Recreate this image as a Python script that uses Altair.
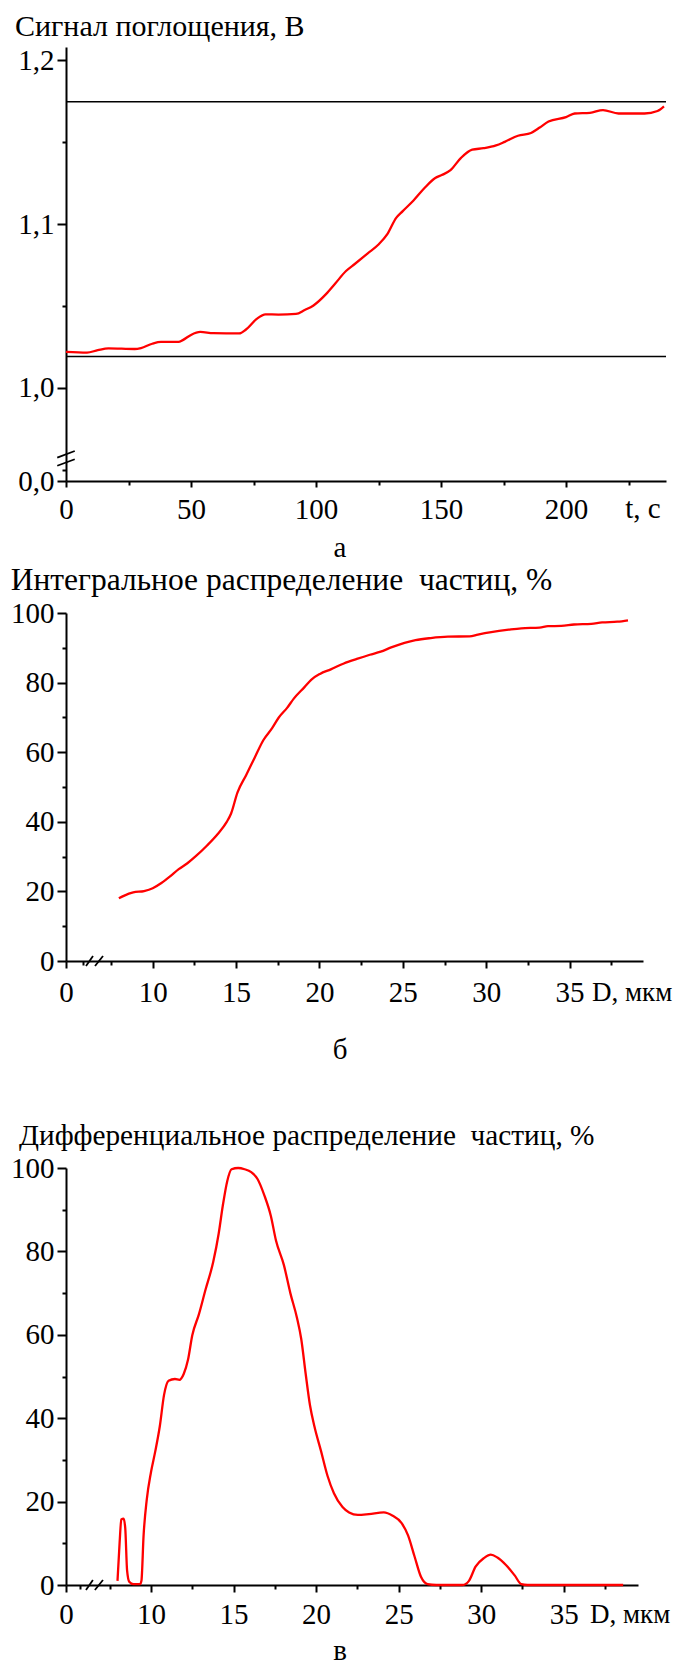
import altair as alt
import pandas as pd

FONT = "Liberation Serif, Times New Roman, serif"
RED = "#ff0000"

# ---------------- panel а: absorption signal vs time ----------------
t_sec = [0, 8.4, 12.7, 17, 27.5, 30, 34.5, 38, 45, 46.7, 50, 53.7, 58.9, 69.3, 72, 76.3,
         79.8, 85, 92, 95.5, 99, 104, 107.7, 112, 115.5, 120.7, 125, 128.6, 132, 134.7,
         139, 143.4, 147.7, 150.3, 153.8, 158, 162.5, 167, 172, 175.5, 180.8, 186, 189.5,
         193, 200, 203.5, 209.6, 214.8, 221, 231.4, 236.6, 239.2]
signal = [1.0221, 1.0216, 1.0231, 1.0242, 1.0238, 1.0244, 1.027, 1.0281, 1.0281, 1.0292,
          1.0324, 1.0342, 1.0335, 1.0333, 1.0357, 1.0422, 1.045, 1.0448, 1.0452, 1.0476,
          1.0504, 1.0573, 1.0638, 1.0714, 1.0757, 1.0822, 1.0876, 1.0941, 1.1037, 1.108,
          1.1145, 1.1221, 1.1282, 1.13, 1.133, 1.1405, 1.1455, 1.1464, 1.1481, 1.1503,
          1.154, 1.1557, 1.159, 1.1627, 1.1654, 1.1676, 1.168, 1.1697, 1.1676, 1.1676,
          1.1691, 1.1719]
levels_a = [1.1748, 1.0192]
a_x_domain = [0, 240]
a_y_domain = [0.9432, 1.2082]
a_x_ticks = [0, 25, 50, 75, 100, 125, 150, 175, 200, 225]
a_y_ticks = [0.9432, 0.95, 1.0, 1.05, 1.1, 1.15, 1.2]
brk_a_x0 = [-3.5, -3.5]
brk_a_x1 = [3.5, 3.5]
brk_a_y0 = [0.9575, 0.9525]
brk_a_y1 = [0.9615, 0.9565]

# ---------------- panel б: integral distribution ----------------
D_int = [7.97, 8.3, 8.83, 9.48, 10, 10.52, 11.04, 11.56, 12.08, 12.6, 13.26, 13.9, 14.43,
         14.7, 15.08, 15.6, 16.12, 16.64, 17.16, 17.55, 18.07, 18.46, 19.1, 19.5, 20.03,
         20.68, 21.46, 22.24, 23.02, 23.67, 24.3, 25.1, 25.76, 26.67, 27.7, 29, 29.5, 30.3,
         31.35, 32.1, 33.2, 33.7, 34.5, 35.26, 36.3, 36.95, 37.86, 38.5]
P_int = [18.0, 18.8, 19.7, 20.1, 20.9, 22.4, 24.3, 26.4, 28.1, 30.2, 33.2, 36.5, 39.9, 42.4,
         48.4, 53.4, 58.5, 63.5, 66.9, 69.9, 72.8, 75.4, 78.7, 80.8, 82.5, 83.8, 85.5, 86.8,
         88.0, 88.9, 90.1, 91.4, 92.2, 92.8, 93.2, 93.3, 93.8, 94.5, 95.2, 95.6, 95.8, 96.2,
         96.3, 96.7, 96.9, 97.3, 97.5, 97.9]
b_x_domain = [4.8, 39.4]
b_x_ticks = [4.8, 5.8, 7.5, 10, 12.5, 15, 17.5, 20, 22.5, 25, 27.5, 30, 32.5, 35, 37.5]
brk_b_x0 = [6.0, 6.54]
brk_b_x1 = [6.42, 7.02]
brk_b_y0 = [-1.45, -1.45]
brk_b_y1 = [1.45, 1.45]

# ---------------- panel в: differential distribution ----------------
D_diff = [7.97, 8.1, 8.2, 8.34, 8.44, 8.55, 8.68, 8.94, 9.34, 9.42, 9.55, 9.74, 10, 10.26,
          10.53, 10.79, 11.06, 11.45, 11.72, 11.98, 12.24, 12.5, 12.9, 13.3, 13.77, 14.1,
          14.35, 14.62, 14.88, 15.28, 15.67, 16.07, 16.46, 16.86, 17.26, 17.57, 18.05, 18.44,
          18.84, 19.1, 19.37, 19.63, 19.9, 20.3, 20.69, 21.08, 21.6, 22, 22.53, 23.2, 24.1,
          24.64, 25.17, 25.57, 25.96, 26.36, 26.75, 27.28, 28.87, 29.26, 29.66, 30.18, 30.58,
          30.98, 31.5, 32.03, 32.43, 32.8, 38.6]
P_diff = [1.0, 10.3, 15.7, 15.9, 13.6, 3.5, 0.8, 0.2, 0.2, 1.0, 11.9, 20.4, 27.1, 32.1, 38,
          45.6, 49.0, 49.4, 49.2, 50.6, 54, 59.9, 64.9, 70.8, 77.5, 84.3, 91, 96.9, 99.7, 100,
          99.7, 99, 97.3, 93.5, 88.5, 82.6, 76.7, 70, 64.1, 59, 50.6, 43.1, 38, 32.1, 26.2, 22,
          18.7, 17.4, 16.8, 17, 17.4, 16.6, 14.9, 11.9, 6.9, 1.9, 0.2, 0, 0, 1.0, 4.4, 6.5, 7.3,
          6.6, 4.8, 2.3, 0.2, 0, 0]
c_x_domain = [4.85, 39.5]
c_x_ticks = [4.85, 5.7, 7.5, 10, 12.5, 15, 17.5, 20, 22.5, 25, 27.5, 30, 32.5, 35, 37.5]
brk_c_x0 = [6.06, 6.6]
brk_c_x1 = [6.48, 7.09]
brk_c_y0 = [-1.2, -1.2]
brk_c_y1 = [1.2, 1.2]

pct_domain = [0, 100]
pct_ticks = [0, 10, 20, 30, 40, 50, 60, 70, 80, 90, 100]

TITLE_A = "Сигнал поглощения, В"
TITLE_B = "Интегральное распределение\u00a0 частиц, %"
TITLE_C = "Дифференциальное распределение\u00a0 частиц, %"

TICK_FS = 29


def axis(values, major_test, label_expr, major_size, pad):
    return alt.Axis(
        values=values, title=None, grid=False, labelExpr=label_expr,
        tickSize={"condition": {"test": major_test, "value": major_size}, "value": 4},
        labelFont=FONT, labelFontSize=TICK_FS, labelColor="black", labelPadding=pad,
        labelFlush=False, labelOverlap=False, domainColor="black", domainWidth=2,
        tickColor="black", tickWidth=2,
    )


def text_layer(s, x, y, size=TICK_FS, align="left"):
    return alt.Chart(pd.DataFrame({"s": [s]})).mark_text(
        font=FONT, fontSize=size, align=align, baseline="alphabetic", color="black"
    ).encode(text="s:N", x=alt.value(x), y=alt.value(y))


def anchor(y0, y1):
    return alt.Chart(pd.DataFrame({"k": [0]})).mark_rule(
        color="white", strokeWidth=0.5
    ).encode(x=alt.value(-57), y=alt.value(y0), y2=alt.value(y1))


# ---------- panel а ----------
A_PAD = 8
xs_a = alt.Scale(domain=a_x_domain, nice=False, zero=False)
ys_a = alt.Scale(domain=a_y_domain, nice=False, zero=False)
ax_a = axis(a_x_ticks, "datum.value % 50 == 0", "datum.value % 50 == 0 ? datum.label : ''", 6, A_PAD)
ay_a = axis(
    a_y_ticks, "round(datum.value*100) % 10 != 5",
    "datum.value < 0.946 ? '0,0' : (round(datum.value*100) % 10 == 5 ? '' : "
    "replace(format(datum.value, '.1f'), '.', ','))", 9, 3)

df_a = pd.DataFrame({"t": t_sec, "v": signal})
line_a = alt.Chart(df_a).mark_line(color=RED, strokeWidth=2.3, interpolate="monotone").encode(
    x=alt.X("t:Q", scale=xs_a, axis=ax_a), y=alt.Y("v:Q", scale=ys_a, axis=ay_a))
refs_a = alt.Chart(pd.DataFrame({"lvl": levels_a})).mark_rule(color="black", strokeWidth=1.5).encode(
    y=alt.Y("lvl:Q", scale=ys_a, axis=ay_a))
brk_a = alt.Chart(pd.DataFrame({"x0": brk_a_x0, "x1": brk_a_x1, "y0": brk_a_y0, "y1": brk_a_y1})
                  ).mark_rule(color="black", strokeWidth=1.8).encode(
    x=alt.X("x0:Q", scale=xs_a, axis=ax_a), x2="x1:Q",
    y=alt.Y("y0:Q", scale=ys_a, axis=ay_a), y2="y1:Q")
panel_a = alt.layer(
    refs_a, line_a, brk_a,
    text_layer(TITLE_A, -51, -11, 30),
    text_layer("t, c", 577, 434 + 6 + A_PAD + 23, TICK_FS, "center"),
    text_layer("а", 274, 510, TICK_FS, "center"),
    anchor(-37.75, 516.25),
).properties(width=600, height=434)


# ---------- panels б, в ----------
def pct_panel(D, P, xdom, xticks, bx0, bx1, by0, by1, width, height, xpad, title, title_x,
              title_y, title_fs, letter, letter_y, anchor_top, anchor_bottom, dlabel_x):
    xs = alt.Scale(domain=xdom, nice=False, zero=False)
    ys = alt.Scale(domain=pct_domain, nice=False, zero=False)
    major_x = "datum.value < 5 || (datum.value >= 10 && round(datum.value*2) % 10 == 0)"
    ax = axis(xticks, major_x,
              "datum.value < 5 ? '0' : (datum.value < 6 || round(datum.value*2) % 10 == 5 ? '' : datum.label)",
              7, xpad)
    ay = axis(pct_ticks, "datum.value % 20 == 0",
              "datum.value % 20 == 0 ? datum.label : ''", 9, 3)
    line = alt.Chart(pd.DataFrame({"d": D, "p": P})).mark_line(
        color=RED, strokeWidth=2.3, interpolate="monotone").encode(
        x=alt.X("d:Q", scale=xs, axis=ax), y=alt.Y("p:Q", scale=ys, axis=ay))
    brk = alt.Chart(pd.DataFrame({"x0": bx0, "x1": bx1, "y0": by0, "y1": by1})).mark_rule(
        color="black", strokeWidth=1.8).encode(
        x=alt.X("x0:Q", scale=xs, axis=ax), x2="x1:Q",
        y=alt.Y("y0:Q", scale=ys, axis=ay), y2="y1:Q")
    return alt.layer(
        line, brk,
        text_layer(title, title_x, title_y, title_fs),
        text_layer("D, мкм", dlabel_x, height + 7 + xpad + 23, 27, "left"),
        text_layer(letter, 274, letter_y, TICK_FS, "center"),
        anchor(anchor_top, anchor_bottom),
    ).properties(width=width, height=height)


panel_b = pct_panel(D_int, P_int, b_x_domain, b_x_ticks, brk_b_x0, brk_b_x1, brk_b_y0, brk_b_y1,
                    577, 348, 10, TITLE_B, -55.3, -23, 31.5, "б", 445.5, -48.25, 485.75, 526)
panel_c = pct_panel(D_diff, P_diff, c_x_domain, c_x_ticks, brk_c_x0, brk_c_x1, brk_c_y0, brk_c_y1,
                    572, 417, 8, TITLE_C, -47, -23, 29.3, "в", 492, -66.75, 497.75, 524)

chart = alt.vconcat(panel_a, panel_b, panel_c, spacing=0, padding=0).configure_view(
    stroke="transparent")

chart.save("out.html", embed_options={"renderer": "svg", "actions": False})
